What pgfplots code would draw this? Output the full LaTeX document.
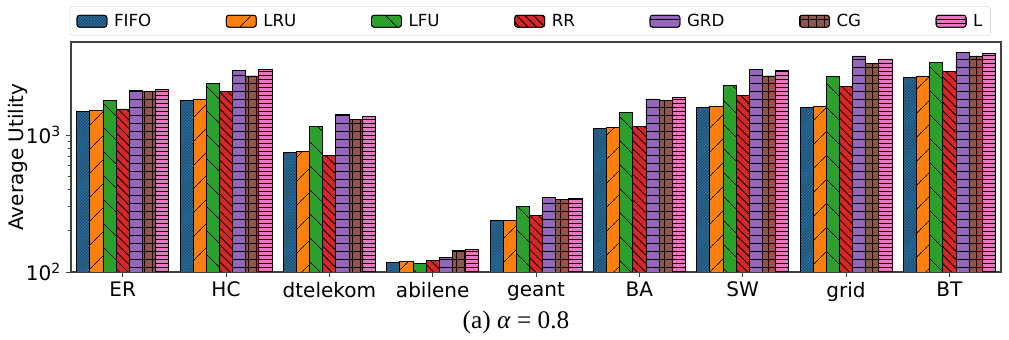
\documentclass[border=0pt]{standalone}
\usepackage{pgfplots}
\pgfplotsset{compat=1.18}
\usetikzlibrary{patterns.meta}
\usepackage{fontspec}
\setmainfont{DejaVu Sans}
\newfontfamily\capfont{Liberation Serif}
\definecolor{cFIFO}{HTML}{1F6FA8}
\definecolor{cLRU}{HTML}{FF7F0E}
\definecolor{cLFU}{HTML}{2CA02C}
\definecolor{cRR}{HTML}{D62728}
\definecolor{cGRD}{HTML}{9467BD}
\definecolor{cCG}{HTML}{8C564B}
\definecolor{cL}{HTML}{E377C2}
\begin{document}
\begin{tikzpicture}
\useasboundingbox (-53.25pt,-50.25pt) rectangle (703.5pt,204pt);
\begin{axis}[
  scale only axis,
  width=697.5pt, height=172.5pt,
  ymode=log, log origin=infty,
  ymin=100, ymax=4775,
  xmin=-0.5, xmax=8.5,
  xtick={0,1,2,3,4,5,6,7,8},
  xticklabels={ER,HC,dtelekom,abilene,geant,BA,SW,grid,BT},
  ytick={100,1000},
  yticklabels={10\textsuperscript{2},10\textsuperscript{3}},
  tick label style={font=\fontsize{15}{18}\selectfont},
  tick align=outside,
  major tick length=4pt, minor tick length=2.5pt,
  every tick/.style={black!75, line width=0.6pt},
  axis line style={black!75, line width=0.8pt},
  xtick pos=bottom, ytick pos=left,
  ylabel={Average Utility},
  ylabel style={font=\fontsize{15}{18}\selectfont, at={(axis description cs:-0.0573,0.5)}, anchor=center},
  ybar, bar width=0.127,
  every axis plot/.append style={draw=black, line width=0.6pt},
  area legend,
  legend columns=7,
  legend style={
    at={(axis description cs:-0.0015,1)}, anchor=south west, yshift=4.5pt,
    draw=black!15, rounded corners=2pt,
    font=\fontsize{12.5}{15}\selectfont,
    inner xsep=5pt, inner ysep=4.5pt,
    nodes={inner sep=1pt},
    /tikz/every odd column/.append style={column sep=4pt},
    /tikz/every even column/.append style={column sep=55pt},
  },
  legend image code/.code={\draw[#1] (0pt,-4.5pt) rectangle (22.5pt,4.5pt);},
]
\addplot[fill=cFIFO, bar shift=-0.381, postaction={pattern={Lines[angle=45,distance=1.6pt,line width=0.35pt]}, pattern color=black!80}] coordinates {
(0,1479) (1,1780) (2,748) (3,118) (4,237) (5,1119) (6,1583) (7,1583) (8,2618)};
\addplot[fill=cLRU, bar shift=-0.254, postaction={pattern={Lines[angle=45,distance=13pt,line width=0.6pt]}, pattern color=black}] coordinates {
(0,1504) (1,1822) (2,764) (3,119) (4,237) (5,1138) (6,1620) (7,1610) (8,2666)};
\addplot[fill=cLFU, bar shift=-0.127, postaction={pattern={Lines[angle=-45,distance=13pt,line width=0.6pt]}, pattern color=black}] coordinates {
(0,1780) (1,2384) (2,1150) (3,116) (4,300) (5,1455) (6,2317) (7,2666) (8,3394)};
\addplot[fill=cRR, bar shift=0, postaction={pattern={Lines[angle=-45,distance=4.5pt,line width=0.6pt]}, pattern color=black}] coordinates {
(0,1549) (1,2070) (2,706) (3,121) (4,258) (5,1150) (6,1936) (7,2278) (8,2931)};
\addplot[fill=cGRD, bar shift=0.127, postaction={pattern={Lines[angle=0,distance=6pt,line width=0.45pt]}, pattern color=black}] coordinates {
(0,2130) (1,2946) (2,1406) (3,128) (4,349) (5,1832) (6,3015) (7,3775) (8,4033)};
\addplot[fill=cCG, bar shift=0.254, postaction={pattern={Hatch[distance=6pt,line width=0.45pt]}, pattern color=black}] coordinates {
(0,2070) (1,2697) (2,1300) (3,143) (4,337) (5,1780) (6,2697) (7,3336) (8,3775)};
\addplot[fill=cL, bar shift=0.381, postaction={pattern={Lines[angle=0,distance=3pt,line width=0.45pt]}, pattern color=black}] coordinates {
(0,2140) (1,3015) (2,1361) (3,147) (4,343) (5,1873) (6,2946) (7,3589) (8,3945)};
\legend{FIFO,LRU,LFU,RR,GRD,CG,L}
\end{axis}
\node[font=\capfont\fontsize{19}{22}\selectfont] at (333.75pt,-37.5pt) {(a) \textit{α} = 0.8};
\end{tikzpicture}
\end{document}
